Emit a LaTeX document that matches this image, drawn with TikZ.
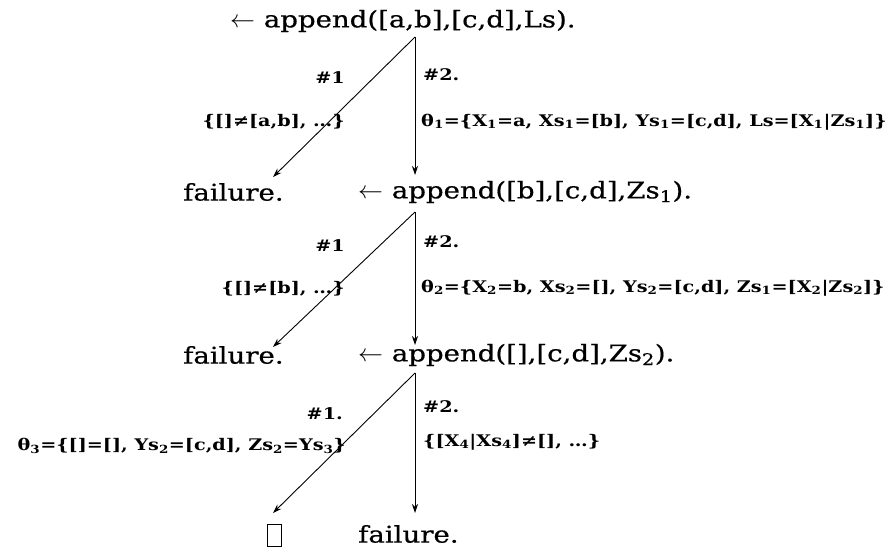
\documentclass[tikz,border=0pt]{standalone}
\usepackage{fontspec}
\setmainfont{DejaVu Serif}
\newfontfamily\goalfont[FakeStretch=1.2,FakeBold=0.6]{DejaVu Serif}
\newfontfamily\labfont[FakeStretch=1.2]{DejaVu Serif}
\usetikzlibrary{arrows.meta}
\tikzset{
  goal/.style={inner sep=0pt,font=\goalfont\fontsize{23}{26}\selectfont},
  lab/.style={inner sep=0pt,font=\labfont\bfseries\fontsize{16}{19}\selectfont},
  edge/.style={line width=0.9pt,-{Stealth[length=9pt,width=6pt]}}
}
\newcommand{\sbs}[1]{\textsubscript{#1}}
\begin{document}
\begin{tikzpicture}[x=1pt,y=-1pt]
\useasboundingbox (0,0) rectangle (896,551);
% level 1
\node[goal,anchor=west] (g1) at (230,21) {$\leftarrow$ append([a,b],[c,d],Ls).};
\coordinate (o1) at (415,37);
\coordinate (t1a) at (273,177);
\coordinate (t1b) at (415,175);
\draw[edge] (o1) -- (t1a);
\draw[edge] (o1) -- (t1b);
\node[lab,anchor=east] (n11) at (345,78) {\#1};
\node[lab,anchor=east] (c11) at (345,122) {\{[]≠[a,b], …\}};
\node[lab,anchor=west] (n12) at (423,75) {\#2.};
\node[lab,anchor=west] (c12) at (421,122) {θ\sbs{1}=\{X\sbs{1}=a, Xs\sbs{1}=[b], Ys\sbs{1}=[c,d], Ls=[X\sbs{1}|Zs\sbs{1}]\}};
% level 2
\node[goal,anchor=west] (f1) at (183,192) {failure.};
\node[goal,anchor=west] (g2) at (358,192) {$\leftarrow$ append([b],[c,d],Zs\sbs{1}).};
\coordinate (o2) at (415,212);
\coordinate (t2a) at (273,347);
\coordinate (t2b) at (415,345);
\draw[edge] (o2) -- (t2a);
\draw[edge] (o2) -- (t2b);
\node[lab,anchor=east] (n21) at (345,246) {\#1};
\node[lab,anchor=east] (c21) at (345,289) {\{[]≠[b], …\}};
\node[lab,anchor=west] (n22) at (423,242) {\#2.};
\node[lab,anchor=west] (c22) at (421,288) {θ\sbs{2}=\{X\sbs{2}=b, Xs\sbs{2}=[], Ys\sbs{2}=[c,d], Zs\sbs{1}=[X\sbs{2}|Zs\sbs{2}]\}};
% level 3
\node[goal,anchor=west] (f2) at (183,355) {failure.};
\node[goal,anchor=west] (g3) at (358,355) {$\leftarrow$ append([],[c,d],Zs\sbs{2}).};
\coordinate (o3) at (415,373);
\coordinate (t3a) at (273,513);
\coordinate (t3b) at (415,513);
\draw[edge] (o3) -- (t3a);
\draw[edge] (o3) -- (t3b);
\node[lab,anchor=east] (n31) at (343,414) {\#1.};
\node[lab,anchor=east] (c31) at (346,446) {θ\sbs{3}=\{[]=[], Ys\sbs{2}=[c,d], Zs\sbs{2}=Ys\sbs{3}\}};
\node[lab,anchor=west] (n32) at (423,407) {\#2.};
\node[lab,anchor=west] (c32) at (423,442) {\{[X\sbs{4}|Xs\sbs{4}]≠[], …\}};
% leaves
\node[draw,line width=0.9pt,minimum width=14pt,minimum height=22pt,inner sep=0pt] (box) at (274,535) {};
\node[goal,anchor=west] (f3) at (358,534) {failure.};
\end{tikzpicture}
\end{document}
